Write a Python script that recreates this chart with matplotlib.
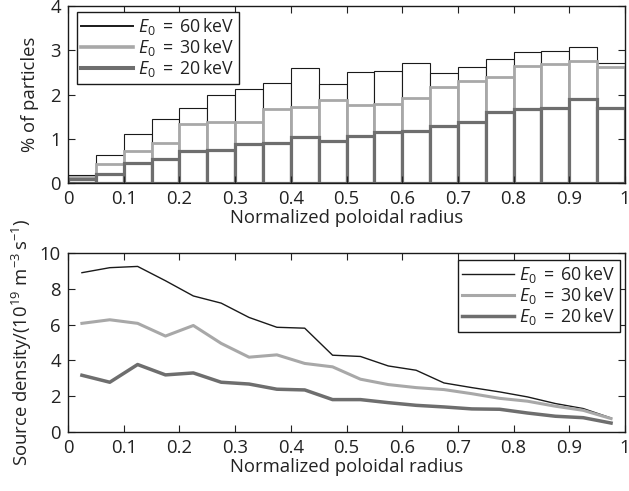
import numpy as np
import matplotlib
matplotlib.use("Agg")
import matplotlib.pyplot as plt

# ---- data ----
bin_left = np.arange(0, 1.0, 0.05)
pct_60 = [0.18, 0.63, 1.11, 1.44, 1.69, 1.98, 2.12, 2.27, 2.61, 2.23,
          2.51, 2.52, 2.71, 2.49, 2.63, 2.81, 2.96, 2.98, 3.07, 2.71]
pct_30 = [0.13, 0.43, 0.73, 0.91, 1.33, 1.37, 1.37, 1.68, 1.71, 1.88,
          1.76, 1.79, 1.93, 2.16, 2.31, 2.40, 2.64, 2.69, 2.76, 2.62]
pct_20 = [0.08, 0.20, 0.45, 0.55, 0.73, 0.75, 0.88, 0.91, 1.05, 0.94,
          1.06, 1.15, 1.18, 1.29, 1.38, 1.60, 1.67, 1.70, 1.90, 1.70]

r_mid = np.arange(0.025, 1.0, 0.05)
src_60 = [8.9, 9.18, 9.25, 8.45, 7.6, 7.2, 6.4, 5.85, 5.8, 4.29,
          4.22, 3.69, 3.45, 2.74, 2.48, 2.24, 1.96, 1.59, 1.31, 0.78]
src_30 = [6.07, 6.27, 6.07, 5.36, 5.95, 4.95, 4.18, 4.31, 3.83, 3.64,
          2.95, 2.65, 2.48, 2.37, 2.14, 1.88, 1.72, 1.44, 1.21, 0.75]
src_20 = [3.17, 2.78, 3.77, 3.19, 3.3, 2.78, 2.68, 2.39, 2.35, 1.81,
          1.81, 1.64, 1.49, 1.40, 1.29, 1.27, 1.06, 0.88, 0.80, 0.50]

xtick_labels = ['0', '0.1', '0.2', '0.3', '0.4', '0.5', '0.6', '0.7', '0.8', '0.9', '1']
labels = [r'$E_0\;=\;60\,\mathrm{keV}$', r'$E_0\;=\;30\,\mathrm{keV}$', r'$E_0\;=\;20\,\mathrm{keV}$']
colors = ['#1a1a1a', '#a8a8a8', '#6e6e6e']
widths = [0.8, 2.0, 2.3]

plt.rcParams['font.family'] = ['Open Sans', 'DejaVu Sans']
plt.rcParams['mathtext.fontset'] = 'custom'
plt.rcParams['mathtext.rm'] = 'Open Sans'
plt.rcParams['mathtext.it'] = 'Open Sans:italic'
plt.rcParams['mathtext.sf'] = 'Open Sans'
plt.rcParams['font.size'] = 13.3
for k in ('text.color', 'axes.labelcolor', 'xtick.color', 'ytick.color'):
    plt.rcParams[k] = '#222222'

fig = plt.figure(figsize=(6.29, 4.91), dpi=100)
ax1 = fig.add_axes([68/629, 1-183/491, 557/629, 177/491])
ax2 = fig.add_axes([68/629, 1-432/491, 557/629, 179/491])

legend_kw = dict(fancybox=False, framealpha=1, edgecolor='#1a1a1a', borderpad=0.25,
                 borderaxespad=0, labelspacing=0.0, handlelength=2.9, handletextpad=0.3,
                 fontsize=12.8)

# top: histograms drawn as outlined bars
for vals, c, lw, lab in zip([pct_60, pct_30, pct_20], colors, widths, labels):
    ax1.bar(bin_left, vals, width=0.05, align='edge', facecolor='white',
            edgecolor=c, linewidth=lw)
    ax1.plot([], [], color=c, lw=lw + 0.6, label=lab)

ax1.set_xlim(0, 1)
ax1.set_ylim(0, 4)
ax1.set_xticks(np.arange(0, 1.01, 0.1))
ax1.set_xticklabels(xtick_labels)
ax1.set_yticks([0, 1, 2, 3, 4])
ax1.set_xlabel('Normalized poloidal radius', labelpad=1)
ax1.set_ylabel('% of particles', labelpad=8)
leg1 = ax1.legend(loc='upper left', bbox_to_anchor=(0.016, 0.968), **legend_kw)
leg1.get_frame().set_linewidth(1.0)

# bottom: source density lines
for vals, c, lw, lab in zip([src_60, src_30, src_20], colors, widths, labels):
    ax2.plot(r_mid, vals, color=c, lw=lw + 0.2, label=lab)

ax2.set_xlim(0, 1)
ax2.set_ylim(0, 10)
ax2.set_xticks(np.arange(0, 1.01, 0.1))
ax2.set_xticklabels(xtick_labels)
ax2.set_yticks([0, 2, 4, 6, 8, 10])
ax2.set_xlabel('Normalized poloidal radius', labelpad=1)
ax2.set_ylabel(r'Source density$/(10^{19}\ \mathrm{m}^{-3}\,\mathrm{s}^{-1})$', labelpad=4)
leg2 = ax2.legend(loc='upper right', bbox_to_anchor=(0.991, 0.962), **legend_kw)
leg2.get_frame().set_linewidth(1.0)

for ax in (ax1, ax2):
    ax.tick_params(direction='in', top=True, right=True, length=5, width=0.8, pad=5)
    for s in ax.spines.values():
        s.set_linewidth(1.0)
        s.set_color('#1a1a1a')

fig.savefig('out.png', dpi=100)
